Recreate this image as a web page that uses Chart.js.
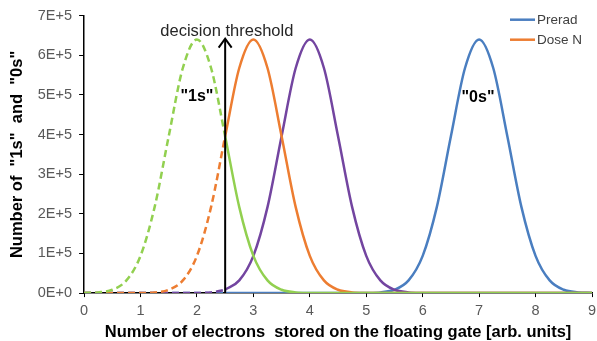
<!DOCTYPE html>
<html><head><meta charset="utf-8">
<script src="https://cdn.jsdelivr.net/npm/chart.js@4/dist/chart.umd.min.js"></script>
<style>html,body{margin:0;padding:0;background:#fff}#wrap{width:597px;height:341px}</style>
</head><body><div id="wrap"><canvas id="c" width="597" height="341"></canvas></div>
<script>
// x positions (number of electrons, arb. units)
const xValues = [0,0.25,0.5,0.75,1,1.25,1.5,1.75,2,2.25,2.5,2.75,3,3.25,3.5,3.75,4,4.25,4.5,4.75,5,5.25,5.5,5.75,6,6.25,6.5,6.75,7,7.25,7.5,7.75,8,8.25,8.5,8.75,9];
// green curve ("1s")
const greenValues = [300,1800,8400,32000,94000,217000,396000,568000,640000,568000,396000,217000,94000,32000,8400,1800,300,0,0,0,0,0,0,0,0,0,0,0,0,0,0,0,0,0,0,0,0];
// orange curve (Dose N)
const orangeValues = [0,0,0,0,300,1800,8400,32000,94000,217000,396000,568000,640000,568000,396000,217000,94000,32000,8400,1800,300,0,0,0,0,0,0,0,0,0,0,0,0,0,0,0,0];
// purple curve
const purpleValues = [0,0,0,0,0,0,0,0,300,1800,8400,32000,94000,217000,396000,568000,640000,568000,396000,217000,94000,32000,8400,1800,300,0,0,0,0,0,0,0,0,0,0,0,0];
// blue curve (Prerad)
const blueValues = [0,0,0,0,0,0,0,0,0,0,0,0,0,0,0,0,0,0,0,0,300,1800,8400,32000,94000,217000,396000,568000,640000,568000,396000,217000,94000,32000,8400,1800,300];

const seriesLabels = ["Curve 1s", "Dose N", "Curve 3", "Prerad"];
const legendLabels = ["Prerad", "Dose N"];
const thresholdX = 2.5;
const arrowTopY = 642000;
const thresholdLabel = "decision threshold";
const thresholdLabelPos = [2.53, 660000];
const stateLabels = ['"1s"', '"0s"'];
const stateLabelX = [2.0, 6.98];
const stateLabelY = [495000, 494000];
const yTickLabels = ["0E+0","1E+5","2E+5","3E+5","4E+5","5E+5","6E+5","7E+5"];

const colors = ["#92D050", "#ED7D31", "#7345A0", "#4A7EC0"];
const allValues = [greenValues, orangeValues, purpleValues, blueValues];
const splitIdx = xValues.indexOf(thresholdX);

const datasets = [];
allValues.forEach((vals, s) => {
  const pts = xValues.map((x, i) => ({x: x, y: vals[i]}));
  datasets.push({
    label: seriesLabels[s] + " (dashed)",
    data: pts.slice(0, splitIdx + 1),
    borderColor: colors[s], borderWidth: 2.5, borderDash: [7, 4],
    pointRadius: 0, fill: false, cubicInterpolationMode: 'monotone', order: s
  });
  datasets.push({
    label: seriesLabels[s],
    data: pts.slice(splitIdx),
    borderColor: colors[s], borderWidth: 2.5,
    pointRadius: 0, fill: false, cubicInterpolationMode: 'monotone', order: s
  });
});

const FONT = "'Liberation Sans', Arial, sans-serif";

const annot = {
  id: 'annot',
  afterDatasetsDraw(chart) {
    const ctx = chart.ctx, xs = chart.scales.x, ys = chart.scales.y, ca = chart.chartArea;
    ctx.save();
    // arrow
    const ax = xs.getPixelForValue(thresholdX);
    const y0 = ys.getPixelForValue(0), y1 = ys.getPixelForValue(arrowTopY);
    ctx.strokeStyle = '#000'; ctx.lineWidth = 2;
    ctx.beginPath(); ctx.moveTo(ax, y0); ctx.lineTo(ax, y1 + 1); ctx.stroke();
    ctx.beginPath(); ctx.moveTo(ax - 6.5, y1 + 9); ctx.lineTo(ax, y1); ctx.lineTo(ax + 6.5, y1 + 9); ctx.stroke();
    // threshold label
    ctx.fillStyle = '#262626';
    ctx.font = "16.5px " + FONT;
    ctx.textAlign = 'center'; ctx.textBaseline = 'middle';
    ctx.fillText(thresholdLabel, xs.getPixelForValue(thresholdLabelPos[0]), ys.getPixelForValue(thresholdLabelPos[1]));
    // state labels
    ctx.fillStyle = '#000';
    ctx.font = "bold 16px " + FONT;
    stateLabels.forEach((t, i) => {
      ctx.fillText(t, xs.getPixelForValue(stateLabelX[i]), ys.getPixelForValue(stateLabelY[i]));
    });
    // legend
    ctx.font = "13.5px " + FONT;
    ctx.textAlign = 'left';
    const legendColors = [colors[3], colors[1]];
    legendLabels.forEach((t, i) => {
      const ly = ca.top + 4 + i * 20;
      const lx = ca.right - 82;
      ctx.strokeStyle = legendColors[i]; ctx.lineWidth = 2.5;
      ctx.beginPath(); ctx.moveTo(lx, ly); ctx.lineTo(lx + 25, ly); ctx.stroke();
      ctx.fillStyle = '#404040';
      ctx.fillText(t, lx + 27, ly + 1);
    });
    ctx.restore();
  }
};

new Chart(document.getElementById('c'), {
  type: 'line',
  data: { datasets: datasets },
  options: {
    responsive: false, animation: false, devicePixelRatio: 1,
    layout: { padding: { top: 5, right: 0, left: 4, bottom: 0 } },
    plugins: { legend: { display: false }, tooltip: { enabled: false } },
    scales: {
      x: {
        type: 'linear', min: 0, max: 9,
        afterFit: (scale) => { scale.paddingRight = 5; },
        ticks: { stepSize: 1, color: '#595959', font: { size: 14.5, family: FONT }, padding: 5 },
        grid: { drawOnChartArea: false, drawTicks: true, tickLength: 4, color: '#000' },
        border: { color: '#000', width: 1.5 },
        title: { display: true, text: 'Number of electrons  stored on the floating gate [arb. units]', color: '#000', font: { size: 16.5, weight: 'bold', family: FONT, lineHeight: 1.0 }, padding: { top: 0, bottom: 0 } }
      },
      y: {
        min: 0, max: 700000,
        ticks: { stepSize: 100000, color: '#595959', font: { size: 14.5, family: FONT }, padding: 7,
          callback: (v) => yTickLabels[Math.round(v / 100000)] },
        grid: { drawOnChartArea: false, drawTicks: true, tickLength: 5, color: '#000' },
        border: { color: '#000', width: 1.5 },
        title: { display: true, text: 'Number of  "1s"  and  "0s"', color: '#000', font: { size: 16.5, weight: 'bold', family: FONT }, padding: { top: 4, bottom: 3 } }
      }
    }
  },
  plugins: [annot]
});
</script></body></html>
